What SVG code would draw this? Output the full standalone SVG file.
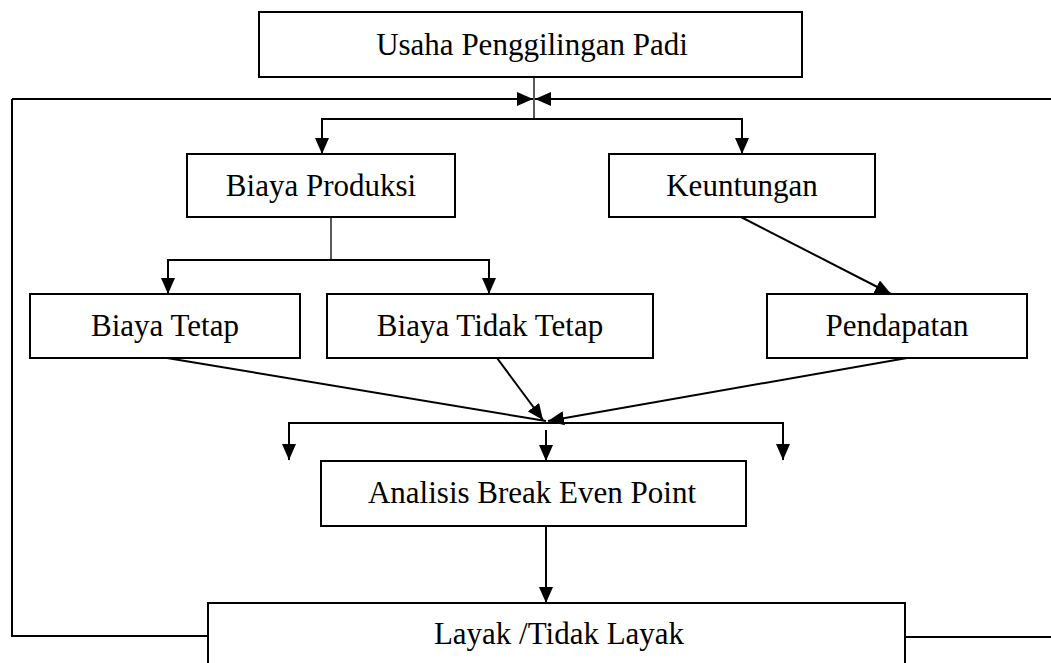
<svg xmlns="http://www.w3.org/2000/svg" width="1051" height="663" viewBox="0 0 1051 663">
<style>
.box{fill:#fff;stroke:#000;stroke-width:2}
.lbl{font-family:"Liberation Serif","Times New Roman",serif;font-size:31px;fill:#000;text-anchor:middle}
.ln{fill:none;stroke:#000;stroke-width:2}
.thin{fill:none;stroke:#000;stroke-width:1.3}
</style>
<defs>
<marker id="ah" viewBox="0 0 16 14" refX="16" refY="7" markerWidth="16" markerHeight="14" markerUnits="userSpaceOnUse" orient="auto">
<path d="M0,0 L16,7 L0,14 z" fill="#000"/>
</marker>
</defs>
<rect width="1051" height="663" fill="#fff"/>
<g id="connectors">
<line class="thin" x1="534" y1="77" x2="534" y2="119"/>
<polyline class="ln" points="12,99 12,636 208,636"/>
<line class="ln" x1="12" y1="99" x2="533" y2="99" marker-end="url(#ah)"/>
<line class="ln" x1="1051" y1="99" x2="535" y2="99" marker-end="url(#ah)"/>
<line class="ln" x1="905" y1="637" x2="1051" y2="637"/>
<line class="ln" x1="321" y1="119" x2="743" y2="119"/>
<line class="ln" x1="322" y1="119" x2="322" y2="154" marker-end="url(#ah)"/>
<line class="ln" x1="742" y1="119" x2="742" y2="154" marker-end="url(#ah)"/>
<line class="thin" x1="331" y1="217" x2="331" y2="260"/>
<line class="ln" x1="167" y1="260" x2="490" y2="260"/>
<line class="ln" x1="168" y1="260" x2="168" y2="294" marker-end="url(#ah)"/>
<line class="ln" x1="489" y1="260" x2="489" y2="294" marker-end="url(#ah)"/>
<line class="ln" x1="741" y1="217" x2="891" y2="294" marker-end="url(#ah)"/>
<line class="ln" x1="167" y1="358" x2="546" y2="421"/>
<line class="ln" x1="497" y1="358" x2="543" y2="420" marker-end="url(#ah)"/>
<line class="ln" x1="907" y1="358" x2="548" y2="421" marker-end="url(#ah)"/>
<polyline class="ln" points="289,448 289,423 783,423 783,448"/>
<line class="ln" x1="289" y1="440" x2="289" y2="460" marker-end="url(#ah)"/>
<line class="ln" x1="783" y1="440" x2="783" y2="460" marker-end="url(#ah)"/>
<line class="ln" x1="546" y1="430" x2="546" y2="461" marker-end="url(#ah)"/>
<line class="ln" x1="546" y1="526" x2="546" y2="603" marker-end="url(#ah)"/>
</g>
<g id="n-usaha"><rect class="box" x="259" y="12" width="543" height="65"/><text class="lbl" x="532" y="55">Usaha Penggilingan Padi</text></g>
<g id="n-biaya-produksi"><rect class="box" x="187" y="154" width="268" height="63"/><text class="lbl" x="321" y="196">Biaya Produksi</text></g>
<g id="n-keuntungan"><rect class="box" x="609" y="154" width="266" height="63"/><text class="lbl" x="742" y="196">Keuntungan</text></g>
<g id="n-biaya-tetap"><rect class="box" x="30" y="294" width="270" height="64"/><text class="lbl" x="165" y="336">Biaya Tetap</text></g>
<g id="n-biaya-tidak-tetap"><rect class="box" x="327" y="294" width="326" height="64"/><text class="lbl" x="490" y="336">Biaya Tidak Tetap</text></g>
<g id="n-pendapatan"><rect class="box" x="767" y="294" width="260" height="64"/><text class="lbl" x="897" y="336">Pendapatan</text></g>
<g id="n-bep"><rect class="box" x="321" y="461" width="425" height="65"/><text class="lbl" x="532" y="503">Analisis Break Even Point</text></g>
<g id="n-layak"><rect class="box" x="208" y="603" width="697" height="70"/><text class="lbl" x="559" y="644">Layak /Tidak Layak</text></g>
</svg>
